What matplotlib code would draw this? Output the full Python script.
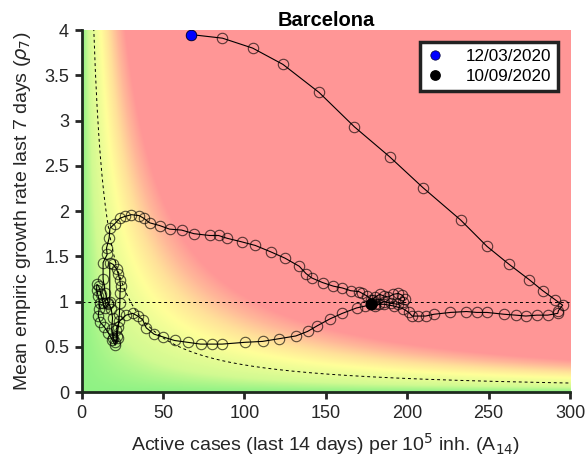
import matplotlib
matplotlib.use("Agg")
import matplotlib.pyplot as plt
import numpy as np

plt.rcParams['font.family'] = ['Liberation Sans', 'DejaVu Sans']

# daily trajectory, 12/03/2020 -> 10/09/2020
a14 = [67.1, 86.5, 105.1, 123.7, 145.9, 167.6, 189.2, 209.6, 232.9, 249.0, 262.7, 275.1, 283.3, 290.9, 295.5, 292.9, 292.5,
       286.3, 279.6, 272.9, 266.6, 259.4, 249.0, 242.7, 236.4, 226.6, 216.5, 211.3, 206.7, 203.1, 201.0, 197.5, 192.0,
       186.0, 180.0, 174.1, 169.0, 160.2, 152.7, 144.5, 138.8, 131.6, 121.5, 111.2, 100.4, 86.3, 80.2, 73.1, 65.2, 57.1,
       50.0, 44.5, 39.7, 37.5, 34.5, 31.4, 27.3, 23.2, 21.2, 22.2, 20.6,
       18.8, 16.5, 14.0, 11.5, 10.2, 10.8, 11.2, 10.2, 9.2, 9.4, 10.5, 12.0, 13.2, 14.5, 16.0, 17.3, 17.3, 19.4, 21.5,
       22.4, 23.5, 23.9, 23.6, 23.5, 23.2, 22.6, 21.5, 20.8, 19.5, 18.5, 19.0, 18.2, 16.5, 14.5, 13.2, 13.2, 15.7, 15.3,
       16.9, 17.4,
       20.4, 23.5, 26.5, 30.6, 35.3, 38.2, 41.8, 47.9, 54.1, 61.4, 69.0, 78.6, 84.1, 89.2, 98.3, 106.7, 116.1, 124.9,
       133.7, 137.8, 141.5, 148.0, 154.7, 160.2, 165.3, 170.4, 172.4,
       175.5, 178.0, 180.5, 183.0, 186.0, 188.5, 191.5, 194.5, 197.0, 198.5, 197.5, 194.5, 190.0, 185.7, 182.5, 180.5,
       178.5, 179.0, 177.8]
rho7 = [3.95, 3.91, 3.80, 3.62, 3.31, 2.93, 2.60, 2.26, 1.90, 1.61, 1.41, 1.24, 1.12, 1.02, 0.96, 0.90, 0.87,
        0.85, 0.85, 0.84, 0.85, 0.86, 0.88, 0.88, 0.89, 0.88, 0.86, 0.84, 0.84, 0.84, 0.88, 0.92, 0.95,
        0.97, 0.97, 0.95, 0.93, 0.87, 0.81, 0.73, 0.67, 0.62, 0.59, 0.56, 0.55, 0.53, 0.53, 0.53, 0.55, 0.57,
        0.61, 0.64, 0.71, 0.80, 0.84, 0.87, 0.85, 0.78, 0.69, 0.60, 0.52,
        0.58, 0.65, 0.72, 0.77, 0.84, 0.92, 0.98, 1.06, 1.13, 1.19, 1.17, 1.08, 0.98, 0.93, 0.97, 0.99, 1.43, 1.41, 1.36,
        1.31, 1.24, 1.17, 1.09, 0.98, 0.86, 0.72, 0.62, 0.55, 0.60, 0.70, 0.82, 0.92, 0.98, 1.10, 1.25, 1.43, 1.52, 1.59,
        1.70, 1.81,
        1.86, 1.92, 1.94, 1.96, 1.95, 1.92, 1.87, 1.84, 1.80, 1.79, 1.75, 1.73, 1.73, 1.70, 1.66, 1.62, 1.55, 1.48,
        1.39, 1.31, 1.26, 1.21, 1.17, 1.15, 1.12, 1.11, 1.09,
        1.06, 1.02, 1.05, 1.08, 1.06, 1.05, 1.08, 1.09, 1.07, 1.03, 0.99, 0.97, 0.98, 1.00, 0.97, 0.95,
        0.98, 1.02, 0.97]
first_day = "12/03/2020"
last_day = "10/09/2020"

# risk background, coloured by EPG = A14 * rho7
epg_nodes = [0, 15, 45, 65, 85, 105]
red = [0.56, 0.82, 1.00, 1.00, 1.00, 1.00]
green = [0.95, 0.98, 1.00, 0.88, 0.72, 0.59]
blue = [0.52, 0.57, 0.60, 0.60, 0.60, 0.59]

gx = np.linspace(0, 300, 600)
gy = np.linspace(0, 4, 400)
X, Y = np.meshgrid(gx, gy)
E = X * Y
img = np.dstack([np.interp(E, epg_nodes, red), np.interp(E, epg_nodes, green), np.interp(E, epg_nodes, blue)])

fig = plt.figure(figsize=(5.87, 4.69), dpi=100)
ax = fig.add_axes([0.139, 0.164, 0.832, 0.772])
ax.imshow(img, extent=[0, 300, 0, 4], origin='lower', aspect='auto', interpolation='bilinear', zorder=0)

# reference curves
cx = np.linspace(1, 300, 600)
ax.plot(cx, 30 / cx, color='black', lw=0.7, ls=(0, (3, 3)), zorder=1)
ax.plot([0, 300], [1, 1], color='black', lw=0.7, ls=(0, (3, 3)), zorder=1)

ax.plot(a14, rho7, color='black', lw=0.8, zorder=2)
ax.plot(a14, rho7, ls='none', marker='o', ms=7.5, mfc='none', mec=(0, 0, 0, 0.65), mew=0.8, zorder=3)
ax.plot(a14[0], rho7[0], 'o', color='#0000ff', ms=7.5, mec='#000033', mew=0.5, zorder=4, label=first_day)
ax.plot(a14[-1], rho7[-1], 'o', color='black', ms=7.5, zorder=4, label=last_day)

ax.set_xlim(0, 300)
ax.set_ylim(0, 4)
ax.set_xticks(range(0, 301, 50))
ax.set_yticks(np.arange(0, 4.01, 0.5))
ax.set_yticklabels(['0', '0.5', '1', '1.5', '2', '2.5', '3', '3.5', '4'])
ax.tick_params(direction='out', length=5, width=2, colors='#262626', labelsize=13, pad=4)
ax.spines['top'].set_visible(False)
ax.spines['right'].set_visible(False)
for s in ['left', 'bottom']:
    ax.spines[s].set_linewidth(2)
    ax.spines[s].set_color('#1e2a1e')

ax.set_xlabel(r'Active cases (last 14 days) per 10$^5$ inh. (A$_{14}$)', fontsize=14, color='#262626', labelpad=7)
ax.set_ylabel(r'Mean empiric growth rate last 7 days ($\rho_7$)', fontsize=14, color='#262626', labelpad=8)
ax.set_title('Barcelona', fontsize=14.5, fontweight='bold', pad=3)

leg = ax.legend(loc='upper right', fontsize=12.3, fancybox=False, framealpha=1, edgecolor='#222222',
                handlelength=1.0, borderaxespad=0.7, handletextpad=1.3, labelspacing=0.3, borderpad=0.4,
                markerscale=0.9)
leg.get_frame().set_linewidth(2.5)

plt.savefig('out.png', dpi=100)
